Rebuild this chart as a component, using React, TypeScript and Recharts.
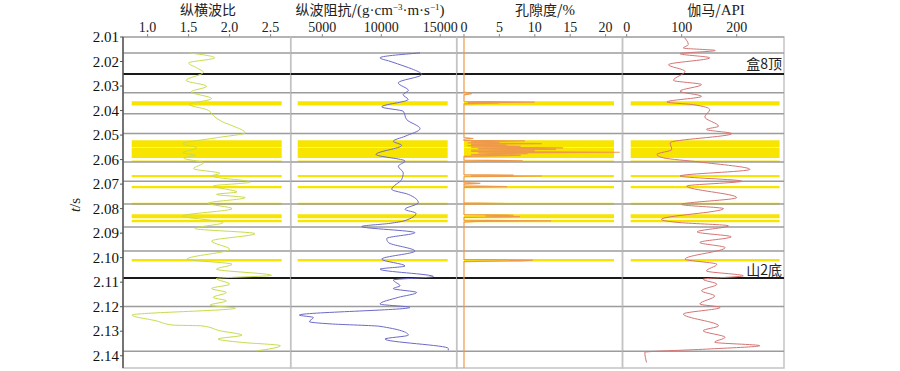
import React from 'react';
import { LineChart, Line, XAxis, YAxis, ReferenceArea, ReferenceLine } from 'recharts';

const W = 900;
const H = 371;
const PLOT_TOP = 37;
const PLOT_BOTTOM = 368;
const SERIF = "'Liberation Serif', 'Times New Roman', serif";
const CJK = "'Noto Sans CJK SC', 'Liberation Serif', serif";

// time axis
const timeTicks = [2.01, 2.02, 2.03, 2.04, 2.05, 2.06, 2.07, 2.08, 2.09, 2.1, 2.11, 2.12, 2.13, 2.14];
const timeDomain: [number, number] = [2.01, 2.145];

// layer boundaries (gray) and horizon markers (black)
const layerLines = [2.0165, 2.0327, 2.0413, 2.0494, 2.061, 2.0688, 2.0781, 2.0875, 2.0973, 2.1199, 2.1382];
const markerLines = [2.0251, 2.1083];
const markerNames = ['盒8顶', '山2底'];

// yellow reservoir bands [top, bottom] in seconds
const bandTops = [2.0362, 2.0521, 2.0553, 2.0604, 2.0663, 2.0708, 2.0776, 2.0823, 2.0846, 2.1005];
const bandBottoms = [2.0379, 2.0551, 2.0593, 2.061, 2.0671, 2.0717, 2.0784, 2.0839, 2.0856, 2.1016];

// panel 1: 纵横波比
const vpvsT = [2.0165, 2.0185, 2.0206, 2.0226, 2.0244, 2.0277, 2.0301, 2.0324, 2.0351, 2.0376, 2.0396, 2.0426, 2.045, 2.0464, 2.0491, 2.0511, 2.0536, 2.0552, 2.0572, 2.0583, 2.0594, 2.0613, 2.0637, 2.0656, 2.0667, 2.0692, 2.0708, 2.0732, 2.0742, 2.0755, 2.0778, 2.08, 2.083, 2.0857, 2.0881, 2.0902, 2.0932, 2.0966, 2.1006, 2.1027, 2.1047, 2.1072, 2.1085, 2.1108, 2.1126, 2.1142, 2.1162, 2.1176, 2.1194, 2.1206, 2.1234, 2.1258, 2.1275, 2.1278, 2.1298, 2.1316, 2.1332, 2.1345, 2.1359, 2.138];
const vpvsV = [1.51, 1.82, 1.5, 1.6, 1.68, 1.47, 1.72, 1.53, 1.78, 1.51, 1.72, 1.82, 1.94, 2.05, 2.19, 1.84, 1.43, 1.6, 1.43, 1.58, 1.44, 1.68, 1.56, 1.88, 1.78, 2.25, 1.8, 2.09, 1.84, 2.19, 1.74, 2.03, 1.43, 1.92, 1.58, 2.31, 1.78, 2.0, 1.48, 2.03, 1.84, 2.51, 1.84, 2.0, 1.78, 1.96, 1.8, 1.96, 1.76, 2.07, 0.81, 1.11, 1.31, 1.66, 1.88, 2.15, 1.86, 2.13, 2.62, 2.33];
const vpvsTicks = [1.0, 1.5, 2.0, 2.5];

// panel 2: 纵波阻抗
const impT = [2.0165, 2.0185, 2.0199, 2.022, 2.023, 2.0253, 2.0287, 2.0318, 2.0335, 2.0355, 2.0385, 2.0403, 2.0437, 2.0474, 2.0505, 2.0525, 2.0542, 2.0579, 2.0606, 2.0627, 2.0654, 2.0681, 2.0721, 2.0742, 2.0776, 2.0803, 2.0819, 2.085, 2.086, 2.0873, 2.0898, 2.0922, 2.0938, 2.0973, 2.1006, 2.1034, 2.1047, 2.1077, 2.1091, 2.1115, 2.1126, 2.1142, 2.1162, 2.1189, 2.1203, 2.1234, 2.1244, 2.1261, 2.127, 2.128, 2.1316, 2.1332, 2.137, 2.1378];
const impV = [13282, 9890, 10734, 12010, 12579, 13423, 11440, 12294, 11851, 12273, 10037, 11862, 12157, 13286, 12010, 11018, 11725, 9552, 12010, 11440, 11862, 11725, 10881, 12294, 13138, 12010, 12938, 11925, 10734, 8339, 12853, 10459, 10596, 12853, 10037, 12010, 9890, 14414, 11018, 11588, 11018, 13001, 11440, 9890, 12432, 3045, 4237, 3899, 5650, 9890, 12294, 10312, 15680, 15680];
const impTicks = [5000, 10000, 15000];

// panel 3: 孔隙度
const porT = [2.01, 2.0325, 2.0331, 2.0336, 2.0362, 2.0366, 2.0368, 2.037, 2.0373, 2.051, 2.0514, 2.0517, 2.0522, 2.0524, 2.0527, 2.053, 2.0532, 2.0535, 2.0538, 2.0541, 2.0543, 2.0546, 2.0549, 2.0552, 2.0555, 2.0558, 2.0561, 2.0564, 2.0567, 2.057, 2.0573, 2.0576, 2.058, 2.0583, 2.0587, 2.0602, 2.0605, 2.0608, 2.0661, 2.0663, 2.0665, 2.0667, 2.067, 2.0694, 2.0697, 2.07, 2.0707, 2.071, 2.0713, 2.0776, 2.0779, 2.0782, 2.0824, 2.0827, 2.083, 2.0833, 2.0836, 2.0847, 2.085, 2.0852, 2.0855, 2.1007, 2.101, 2.1013, 2.1016, 2.145];
const porV = [0, 0, 1.1, 0, 0, 10, 0.5, 5, 0, 0, 1.3, 0, 0, 8.6, 1, 5, 0.5, 11, 1, 6, 0.5, 8, 1, 14, 2, 13, 1, 10, 1, 22, 2, 9, 1, 8, 0, 0, 8.3, 0, 0, 7, 1, 11, 0, 0, 2.3, 0, 0, 6.1, 0, 0, 6.1, 0, 0, 7, 3, 7.9, 0, 0, 12.3, 1.8, 0, 0, 9.7, 7.8, 0, 0];
const porTicks = [0, 5, 10, 15, 20];

// panel 4: 伽马
const grT = [2.01, 2.0131, 2.0145, 2.0155, 2.0168, 2.0185, 2.0213, 2.024, 2.0277, 2.0294, 2.0321, 2.0342, 2.0365, 2.0376, 2.0396, 2.0426, 2.0464, 2.0477, 2.0494, 2.0531, 2.0559, 2.0579, 2.0593, 2.061, 2.064, 2.0667, 2.0688, 2.0708, 2.0755, 2.0783, 2.08, 2.0844, 2.0857, 2.087, 2.0895, 2.0915, 2.0938, 2.0959, 2.1006, 2.1027, 2.1054, 2.1074, 2.1088, 2.1108, 2.1135, 2.1156, 2.1189, 2.1203, 2.123, 2.1278, 2.1298, 2.1325, 2.1345, 2.1359, 2.1373, 2.1386, 2.1427];
const grV = [104, 112, 103, 161, 97, 151, 76, 106, 85, 136, 97, 136, 73, 121, 151, 142, 167, 145, 191, 79, 82, 55, 67, 133, 224, 97, 209, 109, 200, 100, 176, 63, 97, 185, 128, 190, 133, 179, 106, 164, 145, 212, 139, 164, 136, 160, 133, 170, 103, 167, 139, 179, 160, 242, 145, 33, 36];
const grTicks = [0, 100, 200];

const toData = (ts: number[], vs: number[]) => ts.map((t, i) => ({ t, v: vs[i] }));

type PanelProps = {
  left: number;
  right: number;
  domain: [number, number];
  bandX: [number, number];
  ticks: number[];
  fmt: (v: number) => string;
  ts: number[];
  vs: number[];
  color: string;
  width?: number;
  curve?: 'monotone' | 'linear';
  showY?: boolean;
};

const Y_AXIS_W = 50;

const makeTopTick = (fmt: (v: number) => string) => (props: any) => {
  const { x, y, payload } = props;
  return (
    <text x={x} y={y} textAnchor="middle" fontFamily={SERIF} fontSize={14} fill="#222">
      {fmt(payload.value)}
    </text>
  );
};

const LeftTick = (props: any) => {
  const { x, y, payload } = props;
  return (
    <text x={x} y={y + 5} textAnchor="end" fontFamily={SERIF} fontSize={15} fill="#111">
      {Number(payload.value).toFixed(2)}
    </text>
  );
};

function Panel({ left, right, domain, bandX, ticks, fmt, ts, vs, color, width = 1, curve = 'monotone', showY = false }: PanelProps) {
  const data = toData(ts, vs);
  return (
    <div style={{ position: 'absolute', left: 0, top: 0 }}>
      <LineChart
        width={W}
        height={H}
        layout="vertical"
        data={data}
        margin={{ top: PLOT_TOP - 20, bottom: H - PLOT_BOTTOM, left: showY ? left - Y_AXIS_W : left, right: W - right }}
      >
        <XAxis
          type="number"
          orientation="top"
          dataKey="v"
          domain={domain}
          ticks={ticks}
          allowDataOverflow
          height={20}
          tickSize={3}
          tickMargin={2}
          interval={0}
          axisLine={{ stroke: '#aaaaaa', strokeWidth: 1.5 }}
          tickLine={{ stroke: '#888888' }}
          tick={makeTopTick(fmt)}
        />
        <YAxis
          type="number"
          dataKey="t"
          domain={timeDomain}
          ticks={timeTicks}
          allowDataOverflow
          hide={!showY}
          width={Y_AXIS_W}
          tickSize={3}
          tickMargin={1}
          interval={0}
          axisLine={{ stroke: '#555', strokeWidth: 1.5 }}
          tickLine={{ stroke: '#555' }}
          tick={LeftTick}
        />
        <ReferenceArea y1={timeDomain[0]} y2={timeDomain[1]} fill="#ffffff" fillOpacity={0} stroke="#c4c4c4" strokeWidth={1.5} />
        {bandTops.map((b, i) => (
          <ReferenceArea key={'b' + i} y1={b} y2={bandBottoms[i]} x1={bandX[0]} x2={bandX[1]} fill="#f7e500" fillOpacity={1} stroke="none" />
        ))}
        {layerLines.map((y, i) => (
          <ReferenceLine key={'l' + i} y={y} stroke="#9c9c9c" strokeWidth={1.5} />
        ))}
        {markerLines.map((y, i) => (
          <ReferenceLine key={'m' + i} y={y} stroke="#1a1a1a" strokeWidth={2} />
        ))}
        <Line dataKey="v" type={curve} stroke={color} strokeWidth={width} dot={false} activeDot={false} isAnimationActive={false} />
      </LineChart>
    </div>
  );
}

export default function App() {
  return (
    <div style={{ position: 'absolute', left: 0, top: 0, width: W, height: H, background: '#fff', overflow: 'hidden', fontFamily: SERIF }}>
      <Panel left={123} right={290.7} domain={[0.7, 2.745]} bandX={[0.806, 2.635]} ticks={vpvsTicks} fmt={(v) => v.toFixed(1)} ts={vpvsT} vs={vpvsV} color="#c9da4c" showY />
      <Panel left={290.7} right={456.7} domain={[2317, 16394]} bandX={[2910, 15630]} ticks={impTicks} fmt={(v) => String(v)} ts={impT} vs={impV} color="#6a6ac8" />
      <Panel left={456.7} right={622.5} domain={[-1.03, 22.39]} bandX={[0, 21.19]} ticks={porTicks} fmt={(v) => String(v)} ts={porT} vs={porV} color="#ef9a4a" width={1.2} curve="linear" />
      <Panel left={622.5} right={784} domain={[-7.6, 286]} bandX={[7.3, 278]} ticks={grTicks} fmt={(v) => String(v)} ts={grT} vs={grV} color="#d47474" />
      <svg width={W} height={H} style={{ position: 'absolute', left: 0, top: 0, pointerEvents: 'none' }}>
        <g fontFamily={CJK} fontSize={14} fill="#222" textAnchor="middle">
          <text x={208} y={15}>纵横波比</text>
          <text x={370} y={15}>
            纵波阻抗/<tspan fontFamily={SERIF} fontSize={15}>(g·cm</tspan><tspan fontFamily={SERIF} fontSize={9} dy={-5}>−3</tspan><tspan fontFamily={SERIF} fontSize={15} dy={5}>·m·s</tspan><tspan fontFamily={SERIF} fontSize={9} dy={-5}>−1</tspan><tspan fontFamily={SERIF} fontSize={15} dy={5}>)</tspan>
          </text>
          <text x={545} y={15}>孔隙度/<tspan fontFamily={SERIF} fontSize={15}>%</tspan></text>
          <text x={716} y={15}>伽马/<tspan fontFamily={SERIF} fontSize={15}>API</tspan></text>
        </g>
        <text x={80} y={205} fontFamily={SERIF} fontSize={15} fill="#222" textAnchor="middle" transform="rotate(-90 80 205)">
          <tspan fontStyle="italic">t</tspan>/s
        </text>
        <g fontFamily={CJK} fontSize={14} fill="#222" textAnchor="end">
          <text x={782} y={69}>{markerNames[0]}</text>
          <text x={782} y={275}>{markerNames[1]}</text>
        </g>
      </svg>
    </div>
  );
}
